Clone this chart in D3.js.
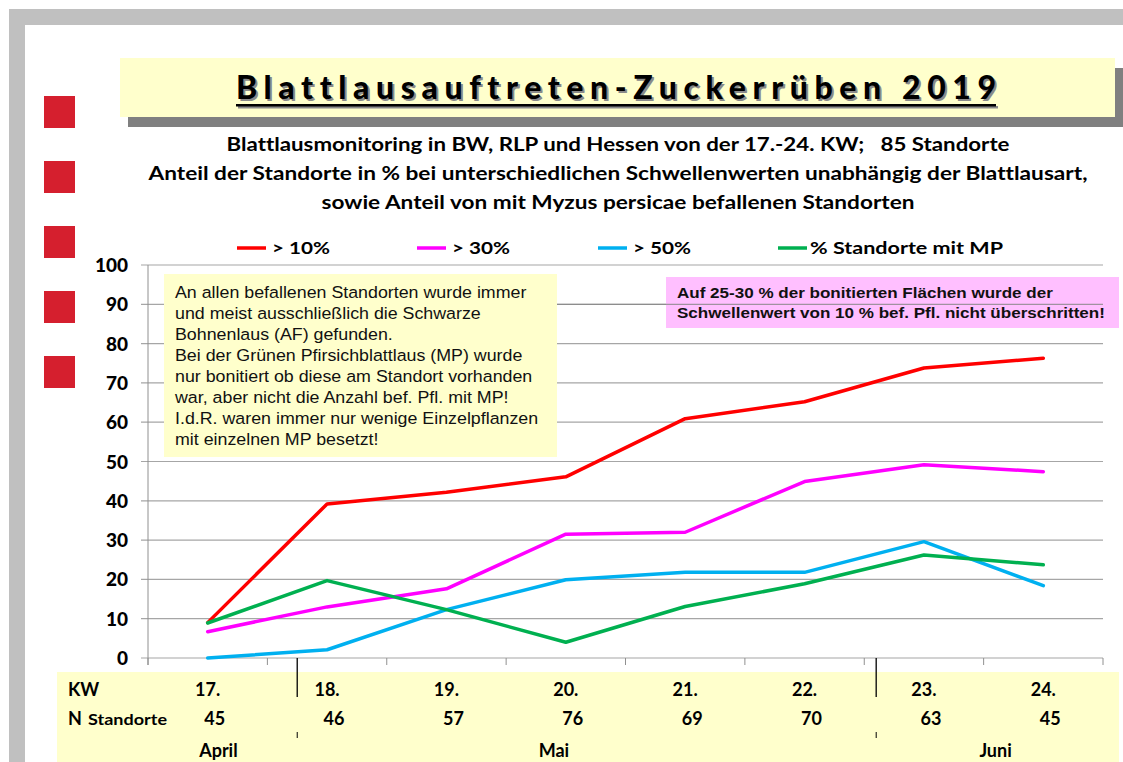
<!DOCTYPE html>
<html><head><meta charset="utf-8">
<script src="https://cdn.jsdelivr.net/npm/d3@7"></script>
<style>body{margin:0;background:#fff;overflow:hidden} text{font-variant-ligatures:none;white-space:pre}</style>
</head><body><svg id="c" width="1123" height="762"></svg>
<script>
// ---------- data ----------
const weeks = ["17.","18.","19.","20.","21.","22.","23.","24."];
const nStandorte = ["45","46","57","76","69","70","63","45"];
const seriesNames = ["> 10%","> 30%","> 50%","% Standorte mit MP"];
const s10 = [9.0,39.2,42.2,46.1,60.9,65.2,73.8,76.3];
const s30 = [6.7,13.0,17.6,31.5,32.0,44.9,49.2,47.4];
const s50 = [0.0,2.1,12.3,19.9,21.8,21.8,29.6,18.4];
const sMP = [8.9,19.7,12.3,4.0,13.1,18.9,26.2,23.7];
const yTicks = [0,10,20,30,40,50,60,70,80,90,100];
const months = ["April","Mai","Juni"];
const monthCenters = [0.59, 3.4, 7.1];   // in week units
const monthBreaks = [1.25, 6.1];         // in week units
const titleText = "Blattlausauftreten-Zuckerrüben 2019";
const subLines = [
  "Blattlausmonitoring in BW, RLP und Hessen von der 17.-24. KW;   85 Standorte",
  "Anteil der Standorte in % bei unterschiedlichen Schwellenwerten unabhängig der Blattlausart,",
  "sowie Anteil von mit Myzus persicae befallenen Standorten"
];
const noteLines = [
  "An allen befallenen Standorten wurde immer",
  "und meist ausschließlich die Schwarze",
  "Bohnenlaus (AF) gefunden.",
  "Bei der Grünen Pfirsichblattlaus (MP) wurde",
  "nur bonitiert ob diese am Standort vorhanden",
  "war, aber nicht die Anzahl bef. Pfl. mit MP!",
  "I.d.R. waren immer nur wenige Einzelpflanzen",
  "mit einzelnen MP besetzt!"
];
const pinkLines = [
  "Auf 25-30 % der bonitierten Flächen wurde der",
  "Schwellenwert von 10 % bef. Pfl. nicht überschritten!"
];
const colors = ["#FF0000","#FF00FF","#00B0F0","#00B050"];

// ---------- drawing ----------
const svg = d3.select("#c");
const BOLD = "Lato, 'Open Sans', sans-serif";
const ARIAL = "'Liberation Sans', Arial, sans-serif";

// frame
svg.append("rect").attr("x",9).attr("y",9).attr("width",1114).attr("height",16).attr("fill","#C0C0C0");
svg.append("rect").attr("x",9).attr("y",9).attr("width",16).attr("height",753).attr("fill","#C0C0C0");

// red squares
[96,161,226,291,356].forEach(yy=>{
  svg.append("rect").attr("x",44).attr("y",yy).attr("width",31).attr("height",32).attr("fill","#D51F2E");
});

// title box
svg.append("rect").attr("x",128).attr("y",68).attr("width",995).attr("height",59).attr("fill","#808080");
svg.append("rect").attr("x",120).attr("y",58).attr("width",995).attr("height",59).attr("fill","#FFFFCC");
[[2,2,"#8a8a8a"],[0,0,"#000"]].forEach(([dx,dy,c])=>{
  svg.append("text").attr("x",236+dx).attr("y",99+dy).attr("font-family",BOLD).attr("font-weight","900")
    .attr("font-size",32).attr("fill",c).attr("textLength",760).attr("lengthAdjust","spacing")
    .text(titleText);
  svg.append("rect").attr("x",236+dx).attr("y",104+dy).attr("width",760).attr("height",2.5).attr("fill",c);
});

// subtitle
const subY = [151,180,209], subW = [783,939,593];
subLines.forEach((t,i)=>{
  svg.append("text").attr("x",618).attr("y",subY[i]).attr("text-anchor","middle")
    .attr("font-family",BOLD).attr("font-weight","bold").attr("font-size",18)
    .attr("textLength",subW[i]).attr("lengthAdjust","spacingAndGlyphs").text(t);
});

// legend
const legX = [237,417,598,778], legTW=[58,58,58,193];
seriesNames.forEach((n,i)=>{
  svg.append("line").attr("x1",legX[i]).attr("x2",legX[i]+29).attr("y1",248).attr("y2",248)
    .attr("stroke",colors[i]).attr("stroke-width",3.5);
  svg.append("text").attr("x",legX[i]+(i===3?32:35)).attr("y",254).attr("font-family",BOLD)
    .attr("font-weight","bold").attr("font-size",17).attr("textLength",legTW[i])
    .attr("lengthAdjust","spacingAndGlyphs").text(n);
});

// scales
const x = d3.scaleBand().domain(weeks).range([148,1103]).paddingInner(0).paddingOuter(0);
const xw = d3.scaleLinear().domain([0,weeks.length]).range([148,1103]);
const y = d3.scaleLinear().domain([0,100]).range([658,265]);
const cx = w => x(w)+x.bandwidth()/2;

// gridlines
svg.append("g").selectAll("line").data(yTicks).join("line")
  .attr("x1",141).attr("x2",1103).attr("y1",d=>y(d)).attr("y2",d=>y(d))
  .attr("stroke","#A6A6A6").attr("stroke-width",1.2);
// y axis line
svg.append("line").attr("x1",148).attr("x2",148).attr("y1",y(100)).attr("y2",y(0)+7).attr("stroke","#909090");
// bottom ticks at band boundaries
svg.append("g").selectAll("line").data(d3.range(weeks.length+1)).join("line")
  .attr("x1",d=>xw(d)).attr("x2",d=>xw(d)).attr("y1",y(0)).attr("y2",y(0)+7)
  .attr("stroke","#909090");
// y labels
svg.append("g").selectAll("text").data(yTicks).join("text")
  .attr("x",128).attr("y",d=>y(d)+7).attr("text-anchor","end")
  .attr("font-family",BOLD).attr("font-weight","900").attr("font-size",19).text(d=>d);

// note box
svg.append("rect").attr("x",164).attr("y",274).attr("width",393).attr("height",183).attr("fill","#FFFFCC");
const ng = svg.append("g").attr("transform","translate(175,0) scale(1.08,1)");
noteLines.forEach((t,i)=>{
  ng.append("text").attr("x",0).attr("y",298+i*21).attr("font-family",ARIAL)
    .attr("font-size",16.5).attr("fill","#111").text(t);
});
// pink box
svg.append("rect").attr("x",666).attr("y",277).attr("width",453).attr("height",51).attr("fill","#FFBFFF");
svg.append("line").attr("x1",557).attr("x2",1103).attr("y1",y(90)).attr("y2",y(90)).attr("stroke","#888").attr("stroke-width",1);
const pg = svg.append("g").attr("transform","translate(677,0) scale(1.1,1)");
pinkLines.forEach((t,i)=>{
  pg.append("text").attr("x",0).attr("y",298+i*20).attr("font-family",ARIAL)
    .attr("font-weight","bold").attr("font-size",15.5).attr("fill","#111").text(t);
});

// series lines
const line = d3.line().x((d,i)=>cx(weeks[i])).y(d=>y(d));
[s10,s30,s50,sMP].forEach((s,i)=>{
  svg.append("path").attr("d",line(s)).attr("fill","none").attr("stroke",colors[i])
    .attr("stroke-width",3.5).attr("stroke-linejoin","round").attr("stroke-linecap","round");
});

// bottom table
svg.append("rect").attr("x",57).attr("y",672).attr("width",1062).attr("height",90).attr("fill","#FFFFCC");
monthBreaks.forEach(b=>{
  svg.append("line").attr("x1",xw(b)).attr("x2",xw(b)).attr("y1",y(0)).attr("y2",697)
    .attr("stroke","#000").attr("stroke-width",1.3);
  svg.append("line").attr("x1",xw(b)).attr("x2",xw(b)).attr("y1",732).attr("y2",738)
    .attr("stroke","#000").attr("stroke-width",1);
});
svg.append("text").attr("x",68).attr("y",696).attr("font-family",BOLD).attr("font-weight","bold")
  .attr("font-size",18).text("KW");
svg.append("text").attr("x",68).attr("y",725).attr("font-family",BOLD).attr("font-weight","bold").attr("font-size",18).text("N");
svg.append("text").attr("x",88).attr("y",725).attr("font-family",BOLD).attr("font-weight","bold").attr("font-size",15)
  .attr("textLength",79).attr("lengthAdjust","spacingAndGlyphs").text("Standorte");
svg.append("g").selectAll("text").data(weeks).join("text")
  .attr("x",d=>cx(d)).attr("y",696).attr("text-anchor","middle")
  .attr("font-family",BOLD).attr("font-weight","bold").attr("font-size",18).text(d=>d);
svg.append("g").selectAll("text").data(nStandorte).join("text")
  .attr("x",(d,i)=>cx(weeks[i])+7).attr("y",725).attr("text-anchor","middle")
  .attr("font-family",BOLD).attr("font-weight","bold").attr("font-size",18).text(d=>d);
svg.append("g").selectAll("text").data(months).join("text")
  .attr("x",(d,i)=>xw(monthCenters[i])).attr("y",757).attr("text-anchor","middle")
  .attr("font-family",BOLD).attr("font-weight","bold").attr("font-size",18).text(d=>d);
</script>
</body></html>
